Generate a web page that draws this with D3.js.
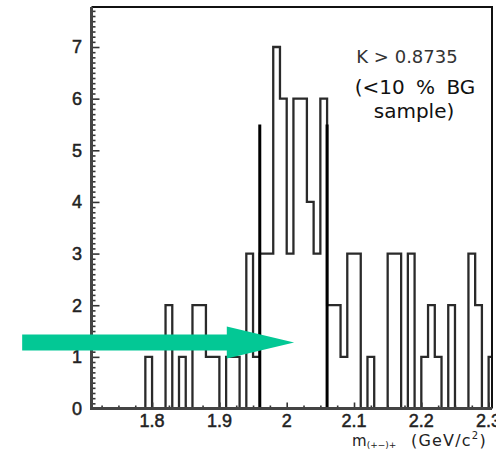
<!DOCTYPE html>
<html>
<head>
<meta charset="utf-8">
<script src="https://cdn.jsdelivr.net/npm/d3@7"></script>
<style>
  html, body { margin: 0; padding: 0; background: #fff; }
  svg { display: block; }
</style>
</head>
<body>
<script>
// Invariant-mass histogram, 0.01 GeV/c^2 bins (lower edges and entries)
const binLow = [1.79,1.80,1.81,1.82,1.83,1.84,1.85,1.86,1.87,1.88,1.89,1.90,1.91,1.92,1.93,1.94,1.95,
                1.96,1.97,1.98,1.99,2.00,2.01,2.02,2.03,2.04,2.05,2.06,2.07,2.08,2.09,2.10,2.11,2.12,
                2.13,2.14,2.15,2.16,2.17,2.18,2.19,2.20,2.21,2.22,2.23,2.24,2.25,2.26,2.27,2.28,2.29,2.30];
const counts = [1,0,0,2,0,1,0,2,2,1,1,0,1,1,0,3,1,
                3,3,7,6,3,6,6,4,3,6,2,2,1,3,3,0,1,
                0,0,3,3,0,3,0,1,2,1,0,2,0,0,3,2,0,1];
const binWidth = 0.01;

// Signal-window cut lines and their drawn height
const cutEdges = [1.96, 2.06];
const cutHeight = 5.5;

// Axis ticks
const xTicks = [1.8, 1.9, 2.0, 2.1, 2.2, 2.3];
const xTickLabels = ["1.8", "1.9", "2", "2.1", "2.2", "2.3"];
const yTicks = [0, 1, 2, 3, 4, 5, 6, 7];

// Annotation arrow (data units): tail, head base, tip, height
const arrowX = [1.607, 1.911, 2.011];
const arrowLevel = 1.28;

const W = 496, H = 455;
const svg = d3.select("body").append("svg").attr("width", W).attr("height", H);

const x = d3.scaleLinear().domain([1.71, 2.305]).range([91.5, 492]);
const y = d3.scaleLinear().domain([0, 7.775]).range([408.5, 7]);

const [x0, x1] = x.range();
const [yb, yt] = y.range();

svg.append("defs").append("clipPath").attr("id", "frame")
  .append("rect").attr("x", x0).attr("y", yt).attr("width", x1 - x0).attr("height", yb - yt);

// Histogram outline as a step path
const pts = [[binLow[0], 0]];
binLow.forEach((lo, i) => { pts.push([lo, counts[i]]); pts.push([lo + binWidth, counts[i]]); });
pts.push([binLow[binLow.length - 1] + binWidth, 0]);
const line = d3.line().x(d => x(d[0])).y(d => y(d[1]));

svg.append("path")
  .attr("clip-path", "url(#frame)")
  .attr("d", line(pts))
  .attr("fill", "none")
  .attr("stroke", "#2a2a2a")
  .attr("stroke-width", 2.3)
  .attr("stroke-linejoin", "miter");

// Cut lines
svg.selectAll("line.cut").data(cutEdges).join("line")
  .attr("class", "cut")
  .attr("x1", d => x(d)).attr("x2", d => x(d))
  .attr("y1", y(0)).attr("y2", y(cutHeight))
  .attr("stroke", "#000").attr("stroke-width", 3);

// Frame: top and right edges
svg.append("path")
  .attr("d", `M${x0},${yt}H${x1}V${yb}`)
  .attr("fill", "none").attr("stroke", "#111").attr("stroke-width", 2);

// Y axis with minor ticks every 0.1
const yAxis = d3.axisRight(y).tickValues(yTicks).tickSize(8).tickFormat("");
svg.append("g").attr("transform", `translate(${x0},0)`).call(yAxis);
const yMinor = d3.range(1, 78).map(i => i / 10).filter(v => Math.abs(v - Math.round(v)) > 1e-6);
svg.append("g").attr("transform", `translate(${x0},0)`)
  .call(d3.axisRight(y).tickValues(yMinor).tickSize(4).tickFormat(""));

// X axis with minor ticks every 0.025
const xAxis = d3.axisTop(x).tickValues(xTicks).tickSize(6).tickFormat("");
svg.append("g").attr("transform", `translate(0,${yb})`).call(xAxis);
const xMinor = d3.range(69, 93).map(i => i * 0.025).filter(v => v > 1.71 && v < 2.305 && Math.abs(v * 10 - Math.round(v * 10)) > 1e-6);
svg.append("g").attr("transform", `translate(0,${yb})`)
  .call(d3.axisTop(x).tickValues(xMinor).tickSize(3).tickFormat(""));

svg.selectAll(".domain").remove();
svg.selectAll(".tick line").attr("stroke", "#333").attr("stroke-width", 1.6);

// Axis lines
svg.append("path").attr("d", `M${x0},${yt}V${yb}H${x1}`)
  .attr("fill", "none").attr("stroke", "#444").attr("stroke-width", 3);

// Tick labels
svg.selectAll("text.ylab").data(yTicks).join("text")
  .attr("class", "ylab")
  .attr("x", 82).attr("y", d => y(d)).attr("dy", "0.35em")
  .attr("text-anchor", "end")
  .attr("font-family", "Liberation Sans, Arial, sans-serif")
  .attr("font-size", 18).attr("fill", "#222")
  .attr("stroke", "#222").attr("stroke-width", 0.5)
  .text(d => d);

svg.selectAll("text.xlab").data(xTicks).join("text")
  .attr("class", "xlab")
  .attr("x", d => x(d)).attr("y", 427)
  .attr("text-anchor", "middle")
  .attr("font-family", "Liberation Sans, Arial, sans-serif")
  .attr("font-size", 18).attr("fill", "#222")
  .attr("stroke", "#222").attr("stroke-width", 0.5)
  .text((d, i) => xTickLabels[i]);

// X axis title
const title = svg.append("text")
  .attr("x", 352).attr("y", 446)
  .attr("font-family", "DejaVu Sans, sans-serif")
  .attr("font-size", 15).attr("fill", "#222");
title.append("tspan").text("m");
title.append("tspan").attr("font-size", 9).attr("dy", 2).text("(+−)+");
const unit = svg.append("text")
  .attr("x", 411).attr("y", 446)
  .attr("font-family", "DejaVu Sans, sans-serif")
  .attr("font-size", 16).attr("letter-spacing", 1.2).attr("fill", "#222");
unit.append("tspan").text("(GeV/c");
unit.append("tspan").attr("font-size", 10).attr("dy", -7).text("2");
unit.append("tspan").attr("dy", 7).text(")");

// Selection note
svg.append("text")
  .attr("x", 407).attr("y", 63).attr("text-anchor", "middle")
  .attr("font-family", "DejaVu Sans, sans-serif")
  .attr("font-size", 18).attr("fill", "#333")
  .text("K > 0.8735");
svg.append("text")
  .attr("x", 415).attr("y", 94).attr("text-anchor", "middle")
  .attr("font-family", "DejaVu Sans, sans-serif")
  .attr("font-size", 20).attr("word-spacing", 5).attr("fill", "#111")
  .text("(<10 % BG");
svg.append("text")
  .attr("x", 414).attr("y", 118).attr("text-anchor", "middle")
  .attr("font-family", "DejaVu Sans, sans-serif")
  .attr("font-size", 20).attr("fill", "#111")
  .text("sample)");

// Arrow pointing at the signal window
const ay = y(arrowLevel);
const shaftHalf = 8, headHalf = 16;
const arrowPts = [
  [x(arrowX[0]), ay - shaftHalf], [x(arrowX[1]), ay - shaftHalf], [x(arrowX[1]), ay - headHalf],
  [x(arrowX[2]), ay], [x(arrowX[1]), ay + headHalf], [x(arrowX[1]), ay + shaftHalf],
  [x(arrowX[0]), ay + shaftHalf]
];
svg.append("polygon")
  .attr("points", arrowPts.map(p => p.join(",")).join(" "))
  .attr("fill", "#03c895");
</script>
</body>
</html>
